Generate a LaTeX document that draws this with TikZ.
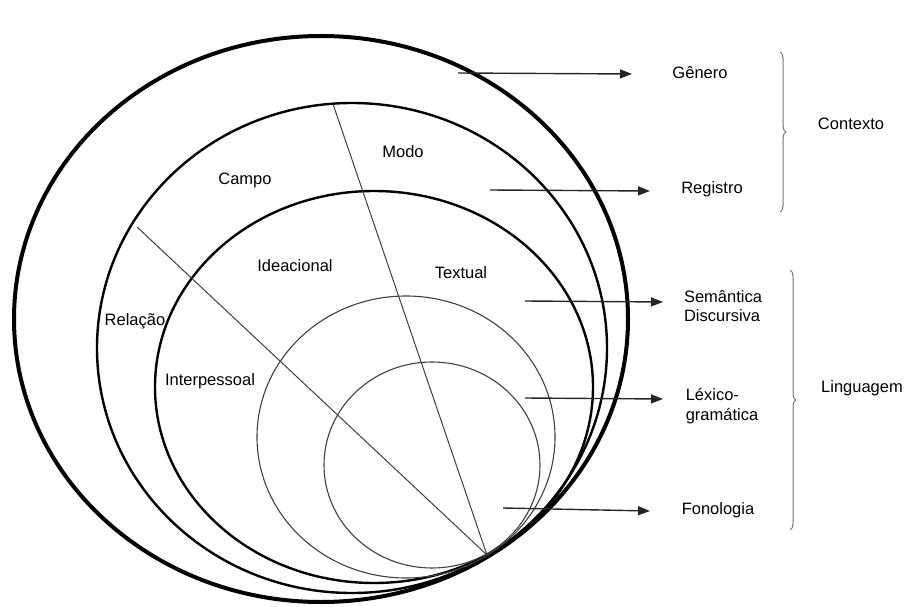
\documentclass[tikz,border=0pt]{standalone}
\usepackage{fontspec}
\setmainfont{Liberation Sans}
\usetikzlibrary{arrows.meta,decorations.pathreplacing}

\begin{document}
\begin{tikzpicture}[x=1pt,y=-1pt,
    grosso/.style={line width=4pt},
    medio/.style={line width=2.4pt},
    fino/.style={line width=1.1pt, black!75},
    raio/.style={line width=1pt, black!75},
    seta/.style={line width=1.4pt, black!85, -{Triangle[length=12pt,width=9pt]}},
    chave/.style={decorate, decoration={brace,amplitude=6pt}, line width=1pt, black!55},
    rotulo/.style={font=\fontsize{16.5}{19.5}\selectfont, align=left, inner sep=1pt}]

    \useasboundingbox (0,0) rectangle (905,607);

    % circulos (todos tocam em baixo)
    \draw[grosso] (321,319) ellipse [x radius=307pt, y radius=283pt];
    \draw[medio]  (352,348) ellipse [x radius=255pt, y radius=245pt];
    \draw[medio]  (374,387) ellipse [x radius=219pt, y radius=196pt];
    \draw[fino]   (406,437) ellipse [x radius=149pt, y radius=141pt];
    \draw[fino]   (432,465) ellipse [x radius=108pt, y radius=103pt];

    \coordinate (base) at (487,555);
    \coordinate (topo-modo) at (333,104);
    \coordinate (topo-rel) at (137,227);
    \draw[raio] (topo-modo) -- (base);
    \draw[raio] (topo-rel) -- (base);

    \node[rotulo] (campo) at (245,180) {Campo};
    \node[rotulo] (modo) at (403,152) {Modo};
    \node[rotulo] (ideacional) at (295,266) {Ideacional};
    \node[rotulo] (textual) at (461,273) {Textual};
    \node[rotulo] (relacao) at (135,321) {Relação};
    \node[rotulo] (interpessoal) at (210,381) {Interpessoal};

    \node[rotulo] (genero) at (700,73) {Gênero};
    \node[rotulo] (registro) at (712,189) {Registro};
    \node[rotulo] (semantica) at (723,306) {Semântica\\Discursiva};
    \node[rotulo] (lexico) at (722,406) {Léxico-\\gramática};
    \node[rotulo] (fonologia) at (718,510) {Fonologia};
    \node[rotulo] (contexto) at (851,124) {Contexto};
    \node[rotulo] (linguagem) at (862,388) {Linguagem};

    % setas
    \coordinate (g0) at (458,73);  \coordinate (g1) at (632,74);
    \coordinate (r0) at (490,190); \coordinate (r1) at (650,191);
    \coordinate (s0) at (525,301); \coordinate (s1) at (663,302);
    \coordinate (l0) at (525,398); \coordinate (l1) at (663,399);
    \coordinate (f0) at (503,508); \coordinate (f1) at (650,511);
    \draw[seta] (g0) -- (g1);
    \draw[seta] (r0) -- (r1);
    \draw[seta] (s0) -- (s1);
    \draw[seta] (l0) -- (l1);
    \draw[seta] (f0) -- (f1);

    % chaves
    \coordinate (c0) at (780,52);  \coordinate (c1) at (780,212);
    \coordinate (h0) at (790,270); \coordinate (h1) at (790,530);
    \draw[chave] (c0) -- (c1);
    \draw[chave] (h0) -- (h1);

\end{tikzpicture}
\end{document}
